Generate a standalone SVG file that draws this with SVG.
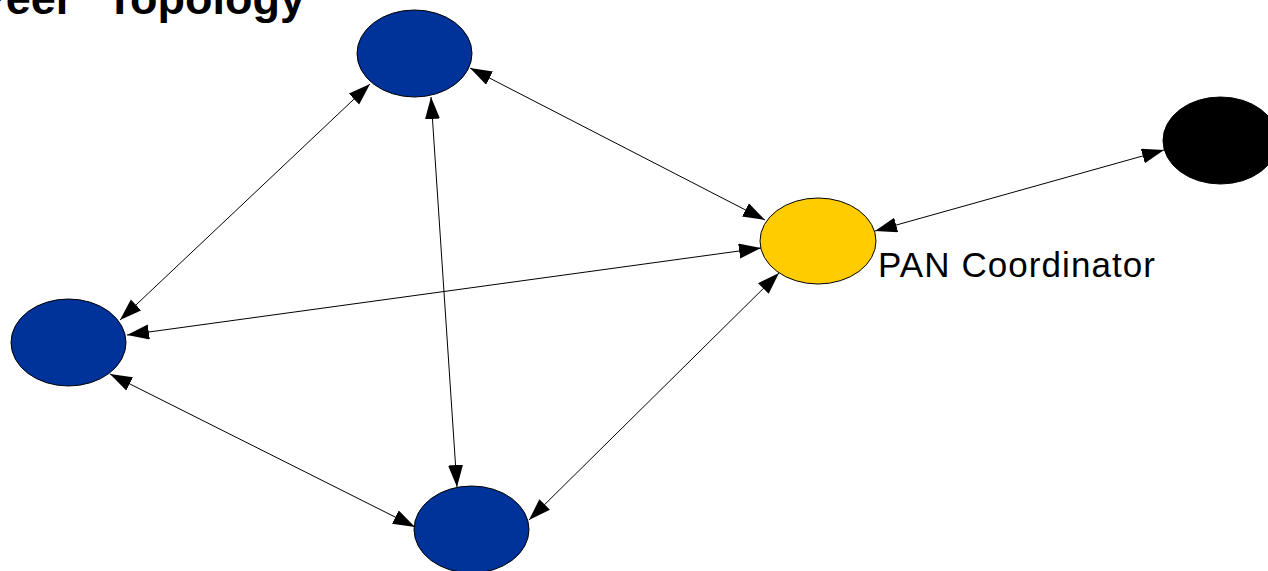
<svg xmlns="http://www.w3.org/2000/svg" width="1268" height="571" viewBox="0 0 1268 571">
  <style>
    .node { stroke: #000; stroke-width: 1; }
    .blue { fill: #003399; }
    .coord { fill: #ffcc00; }
    .dark { fill: #000; }
    .link { stroke: #000; stroke-width: 1; fill: none; marker-start: url(#arrow); marker-end: url(#arrow); }
    .title { font-family: "Liberation Sans", Arial, sans-serif; font-weight: bold; font-size: 45px; word-spacing: 20px; fill: #000; }
    .label { font-family: "Liberation Sans", Arial, sans-serif; font-size: 35px; fill: #000; }
  </style>
  <defs>
    <!-- filled triangular head, used at both ends of every link -->
    <marker id="arrow" markerUnits="userSpaceOnUse" markerWidth="23" markerHeight="16" refX="22" refY="7.5" orient="auto-start-reverse" viewBox="0 0 23 16">
      <path d="M0,0 L22,7.5 L0,15 Z" fill="#000"/>
    </marker>
  </defs>

  <text class="title" x="305" y="14" text-anchor="end">Peer Topology</text>

  <!-- links between devices -->
  <g id="connectors">
    <line class="link" x1="370" y1="84" x2="120" y2="320"/>
    <line class="link" x1="431" y1="97" x2="457" y2="487"/>
    <line class="link" x1="470" y1="68" x2="765" y2="220"/>
    <line class="link" x1="761" y1="248" x2="127" y2="335"/>
    <line class="link" x1="779" y1="273" x2="529" y2="520"/>
    <line class="link" x1="110" y1="374" x2="415" y2="527"/>
    <line class="link" x1="875" y1="231" x2="1164" y2="150"/>
  </g>

  <g id="node-top">
    <ellipse class="node blue" cx="414.5" cy="53.5" rx="57.5" ry="43.5"/>
  </g>
  <g id="node-left">
    <ellipse class="node blue" cx="68.5" cy="342.5" rx="57.5" ry="43.5"/>
  </g>
  <g id="node-bottom">
    <ellipse class="node blue" cx="471.5" cy="529.5" rx="57.5" ry="43.5"/>
  </g>
  <g id="node-coordinator">
    <ellipse class="node coord" cx="818" cy="241" rx="58" ry="43"/>
    <text class="label" x="878" y="277" textLength="277" lengthAdjust="spacing">PAN Coordinator</text>
  </g>
  <g id="node-far">
    <ellipse class="node dark" cx="1220.5" cy="140.5" rx="57.5" ry="43.5"/>
  </g>
</svg>
